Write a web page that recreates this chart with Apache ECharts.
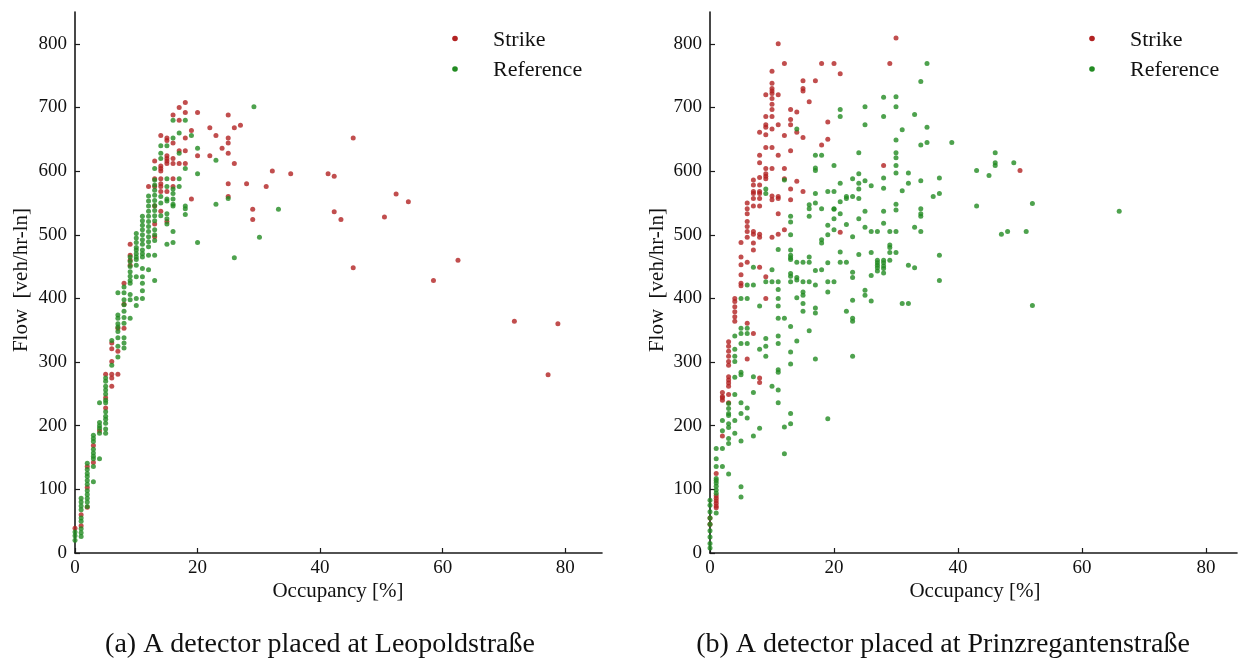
<!DOCTYPE html>
<html>
<head>
<meta charset="utf-8">
<script src="https://cdn.jsdelivr.net/npm/echarts@6/dist/echarts.min.js"></script>
<style>
  html, body { margin: 0; padding: 0; background: #fff; }
  #chart { width: 1238px; height: 663px; }
</style>
</head>
<body>
<div id="chart"></div>
<script>
// tick labels
const xTicks = [0, 20, 40, 60, 80]
const yTicks = [0, 100, 200, 300, 400, 500, 600, 700, 800]
const seriesNames = ['Strike', 'Reference']
const captions = ['(a) A detector placed at Leopoldstraße', '(b) A detector placed at Prinzregantenstraße']

// (a) Leopoldstraße: [occupancy %, flow veh/hr-ln]
const leoStrike = [
  [0, 39], [1, 60], [1, 43], [2, 136], [2, 103], [2, 72], [3, 169], [3, 142], [4, 192],
  [5, 281], [5, 244], [5, 228], [6, 330], [6, 321], [6, 301], [6, 281], [6, 275], [6, 262],
  [7, 353], [7, 317], [7, 281], [8, 424], [8, 391], [8, 353], [9, 485], [9, 468], [9, 460], [9, 452],
  [12, 576], [13, 616], [13, 588], [13, 576], [13, 545], [13, 517], [13, 497],
  [14, 656], [14, 608], [14, 604], [14, 600], [14, 588], [14, 580], [14, 576], [14, 568], [14, 537],
  [15, 652], [15, 648], [15, 624], [15, 620], [15, 616], [15, 612], [15, 568], [15, 521],
  [16, 688], [16, 644], [16, 620], [16, 612], [16, 588], [16, 576],
  [17, 700], [17, 680], [17, 632], [17, 612], [18, 708], [18, 692], [18, 652], [18, 632], [18, 612],
  [19, 664], [19, 556], [20, 692], [20, 624], [22, 668], [22, 624], [23, 656], [24, 636],
  [25, 688], [25, 652], [25, 644], [25, 628], [25, 580], [25, 560], [26, 668], [26, 612], [27, 672],
  [28, 580], [29, 540], [29, 524], [31.2, 576], [32.2, 600], [35.2, 596], [41.3, 596], [42.3, 592],
  [42.3, 536], [43.4, 524], [45.4, 652], [45.4, 448], [50.5, 528], [52.4, 564], [54.4, 552],
  [58.5, 428], [62.5, 460], [71.7, 364], [77.2, 280], [78.8, 360]
]
const leoReference = [
  [0, 33], [0, 27], [0, 20], [1, 86], [1, 80], [1, 74], [1, 68], [1, 55], [1, 50], [1, 38], [1, 32], [1, 26],
  [2, 141], [2, 131], [2, 125], [2, 120], [2, 114], [2, 108], [2, 98], [2, 92], [2, 86], [2, 80], [2, 73],
  [3, 185], [3, 180], [3, 175], [3, 163], [3, 157], [3, 152], [3, 148], [3, 136], [3, 112],
  [4, 236], [4, 205], [4, 200], [4, 196], [4, 188], [4, 148],
  [5, 275], [5, 270], [5, 262], [5, 256], [5, 250], [5, 240], [5, 236], [5, 222], [5, 215], [5, 210], [5, 204], [5, 195], [5, 188],
  [6, 334], [6, 295], [7, 409], [7, 374], [7, 369], [7, 360], [7, 355], [7, 348], [7, 338], [7, 325], [7, 308],
  [8, 418], [8, 409], [8, 398], [8, 390], [8, 380], [8, 370], [8, 361], [8, 338], [8, 330], [8, 322],
  [9, 465], [9, 458], [9, 450], [9, 442], [9, 435], [9, 428], [9, 424], [9, 406], [9, 398], [9, 369],
  [10, 502], [10, 495], [10, 488], [10, 480], [10, 476], [10, 470], [10, 465], [10, 461], [10, 452], [10, 434], [10, 400], [10, 389],
  [11, 529], [11, 522], [11, 515], [11, 508], [11, 500], [11, 492], [11, 485], [11, 476], [11, 470], [11, 465], [11, 447], [11, 434], [11, 424], [11, 412], [11, 400],
  [12, 561], [12, 553], [12, 545], [12, 537], [12, 529], [12, 521], [12, 513], [12, 505], [12, 497], [12, 489], [12, 481], [12, 468], [12, 445],
  [13, 604], [13, 586], [13, 578], [13, 570], [13, 562], [13, 554], [13, 546], [13, 538], [13, 530], [13, 522], [13, 508], [13, 500], [13, 491], [13, 468], [13, 428],
  [14, 640], [14, 628], [14, 620], [14, 560], [14, 550], [14, 530],
  [15, 640], [15, 588], [15, 576], [15, 556], [15, 553], [15, 533], [15, 525], [15, 517], [15, 485],
  [16, 680], [16, 652], [16, 572], [16, 565], [16, 556], [16, 548], [16, 545], [16, 505], [16, 488],
  [17, 660], [17, 628], [17, 588], [17, 576], [18, 680], [18, 604], [18, 545], [18, 541], [18, 532],
  [19, 656], [20, 636], [20, 596], [20, 488], [23, 617], [23, 548], [25, 557], [26, 464],
  [29.2, 701], [30.1, 496], [33.2, 540]
]

// (b) Prinzregentenstraße
const prStrike = [
  [0, 55], [0, 45], [1, 125], [1, 90], [1, 86], [1, 82], [1, 78], [1, 74], [1, 71],
  [2, 252], [2, 246], [2, 244], [2, 240], [2, 184],
  [3, 332], [3, 325], [3, 317], [3, 309], [3, 301], [3, 295], [3, 277], [3, 272], [3, 267], [3, 262], [3, 249], [3, 236],
  [4, 400], [4, 395], [4, 387], [4, 379], [4, 371], [4, 364],
  [5, 488], [5, 465], [5, 453], [5, 437], [5, 424], [5, 420],
  [6, 550], [6, 541], [6, 533], [6, 521], [6, 513], [6, 505], [6, 496], [6, 457], [6, 361], [6, 305],
  [7, 586], [7, 578], [7, 568], [7, 565], [7, 557], [7, 545], [7, 505], [7, 501], [7, 487], [7, 476], [7, 345],
  [8, 661], [8, 625], [8, 613], [8, 590], [8, 578], [8, 568], [8, 565], [8, 557], [8, 545], [8, 501], [8, 496], [8, 449], [8, 275], [8, 268],
  [9, 720], [9, 686], [9, 673], [9, 669], [9, 657], [9, 637], [9, 604], [9, 596], [9, 592], [9, 588], [9, 434], [9, 400],
  [10, 757], [10, 738], [10, 730], [10, 726], [10, 722], [10, 714], [10, 705], [10, 697], [10, 686], [10, 666], [10, 637], [10, 604], [10, 561], [10, 555], [10, 496],
  [11, 800], [11, 720], [11, 673], [11, 625], [11, 560], [11, 557], [11, 533], [11, 501],
  [12, 769], [12, 656], [12, 604], [12, 588], [12, 508],
  [13, 697], [13, 681], [13, 673], [13, 632], [13, 572], [13, 555],
  [14, 693], [14, 661], [14, 584], [15, 742], [15, 730], [15, 726], [15, 653], [15, 568],
  [16, 709], [17, 742], [18, 769], [18, 641], [19, 677], [19, 650], [20, 769], [21, 753], [21, 504],
  [28, 609], [29, 769], [30, 809], [50, 601]
]
const prReference = [
  [0, 83], [0, 75], [0, 65], [0, 55], [0, 45], [0, 35], [0, 25], [0, 15], [0, 8],
  [1, 164], [1, 148], [1, 136], [1, 117], [1, 114], [1, 110], [1, 105], [1, 99], [1, 94], [1, 63],
  [2, 208], [2, 192], [2, 164], [2, 136],
  [3, 235], [3, 227], [3, 219], [3, 216], [3, 203], [3, 197], [3, 180], [3, 172], [3, 124],
  [4, 341], [4, 320], [4, 309], [4, 301], [4, 276], [4, 249], [4, 208], [4, 188],
  [5, 400], [5, 353], [5, 345], [5, 329], [5, 284], [5, 280], [5, 236], [5, 219], [5, 176], [5, 104], [5, 88],
  [6, 421], [6, 400], [6, 353], [6, 345], [6, 329], [6, 228], [6, 212],
  [7, 449], [7, 421], [7, 277], [7, 252], [7, 184], [8, 388], [8, 320], [8, 196],
  [9, 572], [9, 565], [9, 426], [9, 337], [9, 325], [9, 309], [10, 445], [10, 426], [10, 262],
  [11, 477], [11, 426], [11, 414], [11, 400], [11, 388], [11, 369], [11, 341], [11, 329], [11, 288], [11, 284], [11, 256], [11, 236],
  [12, 586], [12, 369], [12, 198], [12, 156],
  [13, 529], [13, 520], [13, 500], [13, 476], [13, 468], [13, 464], [13, 461], [13, 439], [13, 435], [13, 426], [13, 356], [13, 316], [13, 297], [13, 219], [13, 203],
  [14, 666], [14, 457], [14, 433], [14, 429], [14, 401], [14, 333],
  [15, 457], [15, 426], [15, 410], [15, 405], [15, 392], [15, 380],
  [16, 547], [16, 541], [16, 529], [16, 465], [16, 457], [16, 426], [16, 349],
  [17, 625], [17, 605], [17, 601], [17, 565], [17, 550], [17, 444], [17, 421], [17, 385], [17, 377], [17, 305],
  [18, 625], [18, 541], [18, 492], [18, 487], [18, 445],
  [19, 568], [19, 515], [19, 500], [19, 456], [19, 426], [19, 410], [19, 211],
  [20, 609], [20, 568], [20, 541], [20, 540], [20, 525], [20, 508], [20, 426],
  [21, 697], [21, 686], [21, 581], [21, 552], [21, 533], [21, 473], [21, 457],
  [22, 560], [22, 557], [22, 516], [22, 457], [22, 380],
  [23, 588], [23, 560], [23, 497], [23, 441], [23, 433], [23, 397], [23, 369], [23, 364], [23, 309],
  [24, 629], [24, 596], [24, 581], [24, 572], [24, 557], [24, 525], [24, 469],
  [25, 701], [25, 673], [25, 585], [25, 537], [25, 512], [25, 413], [25, 405],
  [26, 577], [26, 505], [26, 472], [26, 436], [26, 396],
  [27, 505], [27, 460], [27, 456], [27, 452], [27, 448], [27, 443],
  [28, 716], [28, 686], [28, 589], [28, 573], [28, 537], [28, 518], [28, 460], [28, 456], [28, 451], [28, 447], [28, 440],
  [29, 505], [29, 484], [29, 480], [29, 472], [29, 460],
  [30, 717], [30, 701], [30, 649], [30, 629], [30, 621], [30, 609], [30, 597], [30, 548], [30, 539], [30, 505], [30, 472],
  [31, 665], [31, 569], [31, 392], [32, 597], [32, 581], [32, 452], [32, 392], [33, 689], [33, 512], [33, 448],
  [34, 741], [34, 641], [34, 585], [34, 541], [34, 533], [34, 529], [34, 505], [35, 769], [35, 669], [35, 645],
  [36, 560], [37, 589], [37, 565], [37, 468], [37, 428], [39, 645], [43, 601], [43, 545], [45, 593],
  [46, 629], [46, 613], [46, 609], [47, 501], [48, 505], [49, 613], [51, 505], [52, 549], [52, 389], [66, 537]
]

const RED = '#b22222'
const GREEN = '#228b22'
const AXIS = '#1a1a1a'
const SERIF = "'Liberation Serif', 'DejaVu Serif', serif"

const chart = echarts.init(document.getElementById('chart'))

const makeX = (gridIndex, max) => ({
  type: 'value', gridIndex, min: 0, max,
  axisLine: { onZero: false, lineStyle: { color: AXIS, width: 1.6 } },
  axisTick: { inside: true, length: 5, customValues: xTicks, lineStyle: { color: AXIS, width: 1.2 } },
  axisLabel: { customValues: xTicks, color: '#111', fontFamily: SERIF, fontSize: 19, margin: 6 },
  splitLine: { show: false }
})
const makeY = (gridIndex) => ({
  type: 'value', gridIndex, min: 0, max: 850,
  axisLine: { show: true, onZero: false, lineStyle: { color: AXIS, width: 1.6 } },
  axisTick: { show: true, inside: true, length: 5, customValues: yTicks, lineStyle: { color: AXIS, width: 1.2 } },
  axisLabel: { customValues: yTicks, color: '#111', fontFamily: SERIF, fontSize: 19, margin: 8 },
  splitLine: { show: false }
})
const makeSeries = (name, data, color, idx) => ({
  name, type: 'scatter', data,
  xAxisIndex: idx, yAxisIndex: idx,
  symbol: 'circle', symbolSize: 5,
  itemStyle: { color },
  silent: true, animation: false
})

// legend, axis titles, captions
const txt = (x, y, text, size, extra) => ({
  type: 'text', x, y,
  style: Object.assign({ text, fill: '#111', font: size + 'px ' + SERIF, textAlign: 'left', textVerticalAlign: 'middle' }, extra || {})
})
const legendItems = (dotX, textX) => [
  { type: 'circle', shape: { cx: dotX, cy: 38.5, r: 2.8 }, style: { fill: RED } },
  { type: 'circle', shape: { cx: dotX, cy: 69, r: 2.8 }, style: { fill: GREEN } },
  txt(textX, 40, seriesNames[0], 22),
  txt(textX, 70, seriesNames[1], 22)
]
const yTitle = (x) => Object.assign(txt(x, 280, 'Flow  [veh/hr-ln]', 21, { textAlign: 'center' }), { rotation: Math.PI / 2 })

const graphic = [
  ...legendItems(455, 493),
  ...legendItems(1092, 1130),
  yTitle(21),
  yTitle(657),
  txt(338, 591, 'Occupancy [%]', 21, { textAlign: 'center' }),
  txt(975, 591, 'Occupancy [%]', 21, { textAlign: 'center' }),
  txt(320, 645, captions[0], 28, { textAlign: 'center' }),
  txt(943, 645, captions[1], 28, { textAlign: 'center' })
]

chart.setOption({
  backgroundColor: '#fff',
  animation: false,
  grid: [
    { left: 75, top: 12, width: 527, height: 541 },
    { left: 710, top: 12, width: 527, height: 541 }
  ],
  xAxis: [makeX(0, 86), makeX(1, 85)],
  yAxis: [makeY(0), makeY(1)],
  series: [
    makeSeries(seriesNames[0], leoStrike, RED, 0),
    makeSeries(seriesNames[1], leoReference, GREEN, 0),
    makeSeries(seriesNames[0], prStrike, RED, 1),
    makeSeries(seriesNames[1], prReference, GREEN, 1)
  ],
  graphic
})
</script>
</body>
</html>
